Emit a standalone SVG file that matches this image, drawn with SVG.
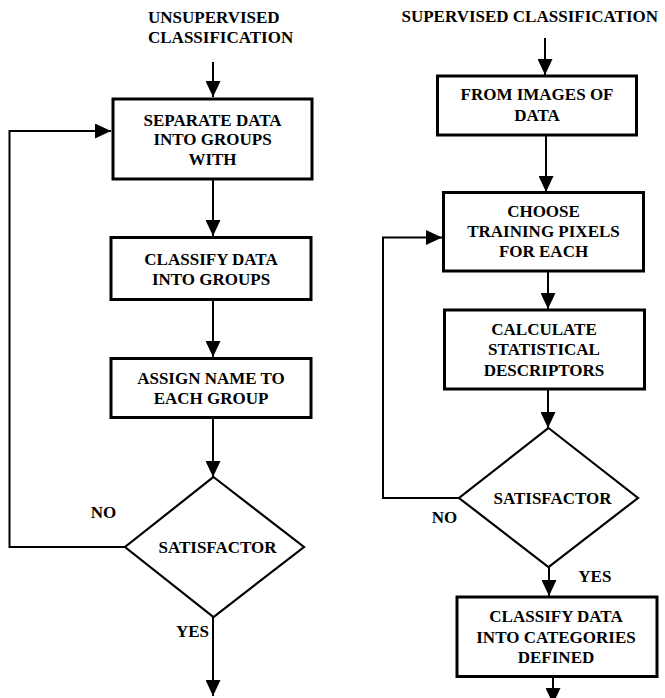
<svg xmlns="http://www.w3.org/2000/svg" width="665" height="698" viewBox="0 0 665 698">
<style>
text{font-weight:bold;font-size:17px;fill:#000}
.c{text-anchor:middle}
.box{fill:#fff;stroke:#000;stroke-width:3}
.dia{fill:#fff;stroke:#000;stroke-width:2.2}
.ln{fill:none;stroke:#000;stroke-width:2}
</style>
<defs>
<marker id="ah" markerUnits="userSpaceOnUse" markerWidth="16" markerHeight="15" refX="16" refY="7.5" orient="auto">
<path d="M0,0 L16,7.5 L0,15 z" fill="#000"/>
</marker>
</defs>
<g id="connectors">
<line class="ln" x1="213" y1="62" x2="213" y2="97" marker-end="url(#ah)"/>
<line class="ln" x1="213" y1="180" x2="213" y2="236" marker-end="url(#ah)"/>
<line class="ln" x1="213" y1="301" x2="213" y2="357" marker-end="url(#ah)"/>
<line class="ln" x1="213" y1="419" x2="213" y2="477" marker-end="url(#ah)"/>
<line class="ln" x1="213" y1="617" x2="213" y2="696" marker-end="url(#ah)"/>
<polyline class="ln" points="125,547 9.5,547 9.5,131 111,131" marker-end="url(#ah)"/>
<line class="ln" x1="545" y1="38" x2="545" y2="75" marker-end="url(#ah)"/>
<line class="ln" x1="546" y1="136" x2="546" y2="192" marker-end="url(#ah)"/>
<line class="ln" x1="548" y1="272" x2="548" y2="309" marker-end="url(#ah)"/>
<line class="ln" x1="548" y1="390" x2="548" y2="428" marker-end="url(#ah)"/>
<line class="ln" x1="549" y1="567" x2="549" y2="596" marker-end="url(#ah)"/>
<line class="ln" x1="553" y1="678" x2="553" y2="704" marker-end="url(#ah)"/>
<polyline class="ln" points="459,498 383,498 383,237.5 442,237.5" marker-end="url(#ah)"/>
</g>
<g font-family="Liberation Serif, Times New Roman, DejaVu Serif, serif">
<g id="title-unsupervised">
<text x="148" y="22.5">UNSUPERVISED</text>
<text x="148" y="43">CLASSIFICATION</text>
</g>
<g id="title-supervised">
<text x="401.5" y="22">SUPERVISED CLASSIFICATION</text>
</g>
<g id="u-separate">
<rect class="box" x="113" y="99" width="199" height="80"/>
<text class="c" x="212.5" y="125.5">SEPARATE DATA</text>
<text class="c" x="212.5" y="145">INTO GROUPS</text>
<text class="c" x="212.5" y="165">WITH</text>
</g>
<g id="u-classify">
<rect class="box" x="111" y="237.5" width="200" height="62"/>
<text class="c" x="211" y="265">CLASSIFY DATA</text>
<text class="c" x="211" y="284.5">INTO GROUPS</text>
</g>
<g id="u-assign">
<rect class="box" x="111" y="358.5" width="200" height="59"/>
<text class="c" x="211" y="383.5">ASSIGN NAME TO</text>
<text class="c" x="211" y="403.5">EACH GROUP</text>
</g>
<g id="u-decision">
<polygon class="dia" points="213.5,477 304,547 213.5,617 125,547"/>
<text class="c" x="217.5" y="553">SATISFACTOR</text>
</g>
<g id="u-labels">
<text x="90.7" y="518">NO</text>
<text x="209" y="637" text-anchor="end">YES</text>
</g>
<g id="s-images">
<rect class="box" x="437.5" y="76" width="199" height="59"/>
<text class="c" x="537" y="100">FROM IMAGES OF</text>
<text class="c" x="537" y="121">DATA</text>
</g>
<g id="s-choose">
<rect class="box" x="443.5" y="192.5" width="200" height="78.5"/>
<text class="c" x="543.5" y="217">CHOOSE</text>
<text class="c" x="543.5" y="237">TRAINING PIXELS</text>
<text class="c" x="543.5" y="257">FOR EACH</text>
</g>
<g id="s-calculate">
<rect class="box" x="444.5" y="310" width="200" height="79"/>
<text class="c" x="544" y="335">CALCULATE</text>
<text class="c" x="544" y="355">STATISTICAL</text>
<text class="c" x="544" y="375.5">DESCRIPTORS</text>
</g>
<g id="s-decision">
<polygon class="dia" points="548.5,428 638,498 548.5,567 459,498"/>
<text class="c" x="552.5" y="503.5">SATISFACTOR</text>
</g>
<g id="s-labels">
<text x="431.7" y="522.5">NO</text>
<text x="578.3" y="582">YES</text>
</g>
<g id="s-classify">
<rect class="box" x="457" y="597" width="200" height="79.5"/>
<text class="c" x="556" y="622">CLASSIFY DATA</text>
<text class="c" x="556" y="642.5">INTO CATEGORIES</text>
<text class="c" x="556" y="663">DEFINED</text>
</g>
</g>
</svg>
